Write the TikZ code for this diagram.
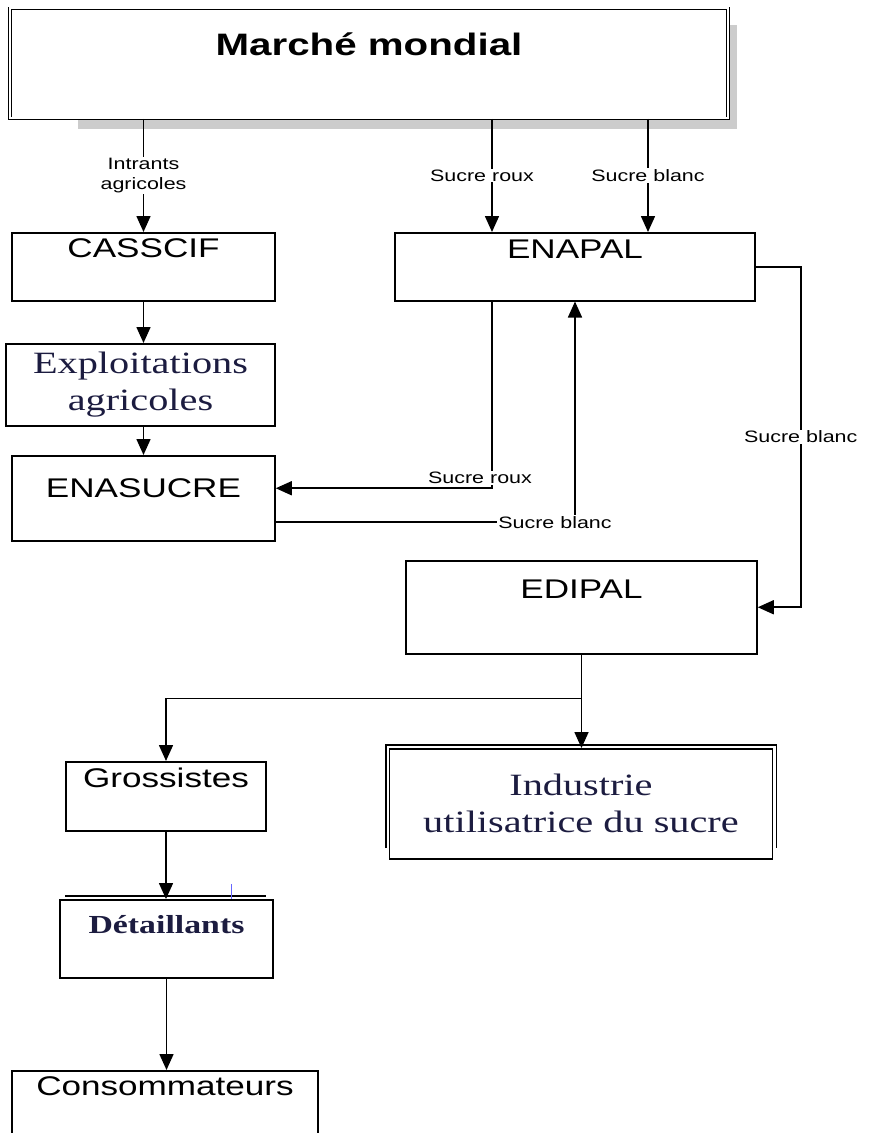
\documentclass[tikz,border=0pt]{standalone}
\usepackage{fontspec}
\setmainfont[FakeStretch=1.3]{Liberation Serif}
\newfontfamily\arialf[FakeStretch=1.3]{Liberation Sans}
\usetikzlibrary{arrows.meta,backgrounds}
\definecolor{inkblue}{RGB}{28,28,64}

\begin{document}
\begin{tikzpicture}[x=1pt, y=-1pt,
    box/.style={draw, line width=1.5pt, inner sep=0pt, align=center, fill=white},
    sansbox/.style={box, font=\arialf\fontsize{27}{30}\selectfont},
    serifbox/.style={box, text=inkblue, font=\fontsize{31}{37}\selectfont},
    lbl/.style={font=\arialf\fontsize{16.5}{20}\selectfont, fill=white, inner sep=1pt, align=center},
    arr/.style={line width=1.6pt, -{Triangle[length=16pt,width=14pt]}}]
  \useasboundingbox (0,0) rectangle (874,1133);
  \clip (0,0) rectangle (874,1133);

  % boites
  \node[box, anchor=north, minimum width=718, text height=47, text depth=63,
        double, double distance=2pt, line width=0.9pt,
        font=\arialf\bfseries\fontsize{31}{34}\selectfont] (mm) at (369,8) {Marché mondial};
  \node[sansbox, anchor=north, minimum width=263, text height=25, text depth=43] (cas) at (143.5,232) {CASSCIF};
  \node[serifbox, anchor=north, minimum width=269, minimum height=82] (exp) at (140.5,343) {Exploitations\\agricoles};
  \node[sansbox, anchor=north, minimum width=263, text height=42, text depth=43] (ena) at (143.5,455) {ENASUCRE};
  \node[sansbox, anchor=north, minimum width=360, text height=26, text depth=42] (enapal) at (575,232) {ENAPAL};
  \node[sansbox, anchor=north, minimum width=351, text height=38, text depth=55] (edipal) at (581.5,560) {EDIPAL};
  \node[serifbox, anchor=north, minimum width=383, minimum height=110] (ind) at (581,748) {Industrie\\utilisatrice du sucre};
  \node[sansbox, anchor=north, minimum width=200, text height=26, text depth=43] (gros) at (166,761) {Grossistes};
  \node[box, anchor=north, minimum width=213, text height=34, text depth=44, text=inkblue,
        font=\bfseries\fontsize{26}{30}\selectfont] (det) at (166.5,899) {Détaillants};
  \node[sansbox, anchor=north, minimum width=306, text height=25, text depth=60] (cons) at (165,1070) {Consommateurs};

  % ombre et doubles traits
  \begin{scope}[on background layer]
    \fill[gray!40] ([xshift=68pt,yshift=-17pt]mm.north west) rectangle ([xshift=9pt,yshift=-10pt]mm.south east);
  \end{scope}
  \draw[line width=1.5pt] ([xshift=-3pt,yshift=-100pt]ind.north west) -- ([xshift=-3pt,yshift=3pt]ind.north west)
    -- ([xshift=3pt,yshift=3pt]ind.north east) -- ([xshift=3pt,yshift=-100pt]ind.north east);
  \draw[line width=1.2pt] ([xshift=6pt,yshift=3pt]det.north west) -- ([xshift=-8pt,yshift=3pt]det.north east);
  \draw[blue!60, line width=1pt] ([xshift=65pt]det.north) -- ([xshift=65pt,yshift=15pt]det.north);

  % fleches
  \coordinate (sr) at ([xshift=-83pt]enapal.north);
  \coordinate (sb) at ([xshift=73pt]enapal.north);
  \coordinate (ers) at ([yshift=10pt]ena.east);
  \coordinate (bend) at ([xshift=45pt]enapal.east);
  \coordinate (split) at ([yshift=-44pt]edipal.south);

  \draw[arr] (mm.south -| cas.north) -- node[lbl]{Intrants\\agricoles} (cas.north);
  \draw[arr] (mm.south -| sr) -- node[lbl, xshift=-10pt]{Sucre roux} (sr);
  \draw[arr] (mm.south -| sb) -- node[lbl]{Sucre blanc} (sb);
  \draw[arr] (cas.south) -- (cas.south |- exp.north);
  \draw[arr] (exp.south -| cas.south) -- (ena.north);
  \draw[arr] (enapal.south -| sr) |- node[lbl, xshift=-12pt, yshift=10pt]{Sucre roux} (ers);
  \draw[arr] ([yshift=-24pt]ena.east) -| node[lbl, xshift=-20pt]{Sucre blanc} (enapal.south);
  \draw[arr] (enapal.east) -- (bend) |- node[lbl, pos=0.25]{Sucre blanc} (edipal.east);
  \draw[arr] (edipal.south) -- (edipal.south |- ind.north);
  \draw[arr] (split) -| (gros.north);
  \draw[arr] (gros.south) -- (gros.south |- det.north);
  \draw[arr] (det.south) -- (det.south |- cons.north);
\end{tikzpicture}
\end{document}
